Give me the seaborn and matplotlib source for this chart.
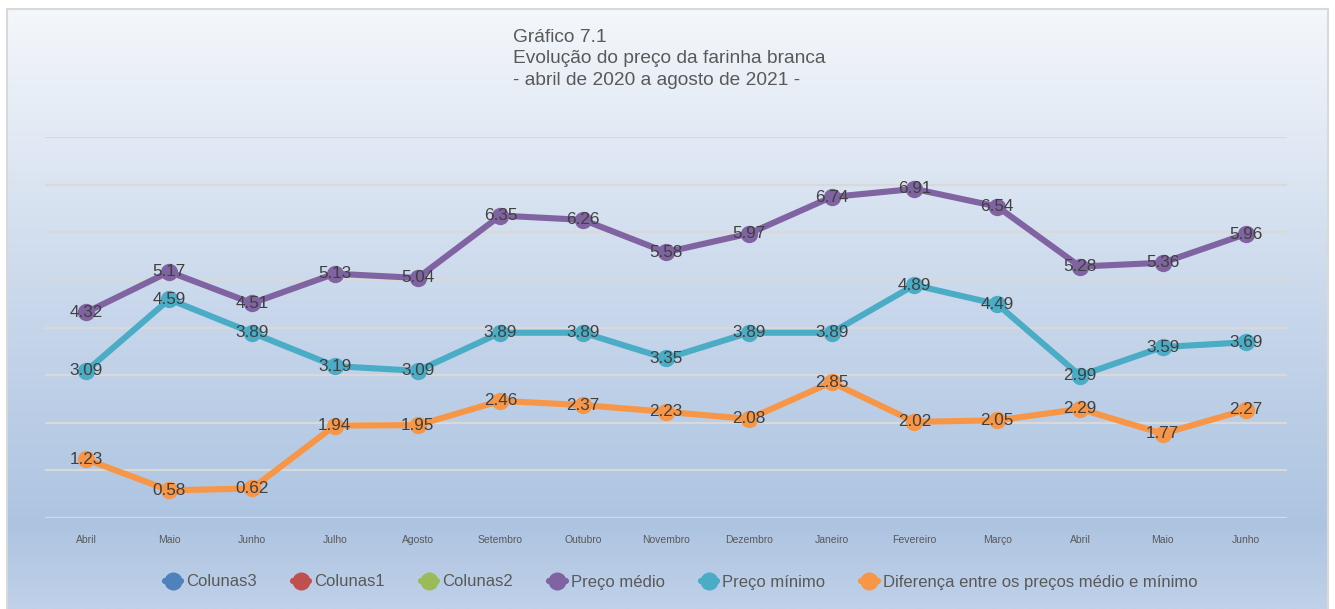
import numpy as np
import pandas as pd
import matplotlib
matplotlib.use("Agg")
import matplotlib.pyplot as plt
from matplotlib.lines import Line2D
from matplotlib.colors import LinearSegmentedColormap
import seaborn as sns

months = ["Abril", "Maio", "Junho", "Julho", "Agosto", "Setembro", "Outubro",
          "Novembro", "Dezembro", "Janeiro", "Fevereiro", "Março", "Abril", "Maio", "Junho"]
preco_medio = [4.32, 5.17, 4.51, 5.13, 5.04, 6.35, 6.26, 5.58, 5.97, 6.74, 6.91, 6.54, 5.28, 5.36, 5.96]
preco_minimo = [3.09, 4.59, 3.89, 3.19, 3.09, 3.89, 3.89, 3.35, 3.89, 3.89, 4.89, 4.49, 2.99, 3.59, 3.69]
diferenca = [1.23, 0.58, 0.62, 1.94, 1.95, 2.46, 2.37, 2.23, 2.08, 2.85, 2.02, 2.05, 2.29, 1.77, 2.27]
series_names = ["Preço médio", "Preço mínimo", "Diferença entre os preços médio e mínimo"]
empty_names = ["Colunas3", "Colunas1", "Colunas2"]
colors = {"Colunas3": "#4f81bd", "Colunas1": "#c0504d", "Colunas2": "#9bbb59",
          "Preço médio": "#8064a2", "Preço mínimo": "#4bacc6",
          "Diferença entre os preços médio e mínimo": "#f79646"}

sns.set_theme(style="white")
plt.rcParams['font.family'] = ['Liberation Sans', 'DejaVu Sans']

W, H = 1335, 609
fig = plt.figure(figsize=(W / 100, H / 100), dpi=100)
fig.patch.set_facecolor("white")

# gradient background panel
bg = fig.add_axes([7 / W, 0, (1328 - 7) / W, (H - 9) / H])
cmap = LinearSegmentedColormap.from_list(
    "bg", [(0.0, (244/255, 247/255, 251/255)),
           (0.5, (200/255, 215/255, 235/255)),
           (0.86, (173/255, 196/255, 225/255)),
           (1.0, (192/255, 209/255, 233/255))])
grad = np.linspace(0, 1, 256).reshape(-1, 1)
bg.imshow(grad, aspect="auto", cmap=cmap, extent=[0, 1, 0, 1], origin="upper")
bg.set_xticks([]); bg.set_yticks([])
for s in bg.spines.values():
    s.set_color("#d9d9d9"); s.set_linewidth(1.5)
bg.spines["bottom"].set_visible(False)

ax = fig.add_axes([45 / W, (H - 518) / H, (1287 - 45) / W, (518 - 137) / H])
ax.patch.set_alpha(0)

df = pd.DataFrame({
    "x": list(range(len(months))) * 3,
    "valor": preco_medio + preco_minimo + diferenca,
    "serie": [series_names[0]] * len(months) + [series_names[1]] * len(months) + [series_names[2]] * len(months),
})

for y in range(0, 9):
    ax.axhline(y, color="#d9d9d9", lw=1.6, zorder=0)

sns.lineplot(data=df, x="x", y="valor", hue="serie", palette=colors, hue_order=series_names,
             linewidth=4.4, marker="o", markersize=12.5, markeredgewidth=0, legend=False, ax=ax, zorder=3)

for name, vals in zip(series_names, [preco_medio, preco_minimo, diferenca]):
    for i, v in enumerate(vals):
        ax.text(i, v, f"{v:.2f}", ha="center", va="center", fontsize=12.3, color="#404040", zorder=5)

ax.set_xlim(-0.5, len(months) - 0.5)
ax.set_ylim(0, 8)
ax.set_xticks(range(len(months)))
ax.set_xticklabels(months, fontsize=7.5, color="#595959")
ax.tick_params(axis="x", length=0, pad=12)
ax.set_yticks([])
ax.set_xlabel(""); ax.set_ylabel("")
for s in ax.spines.values():
    s.set_visible(False)

fig.text(513 / W, 1 - 29 / H, "Gráfico 7.1\nEvolução do preço da farinha branca\n- abril de 2020 a agosto de 2021 -",
         ha="left", va="top", fontsize=13.8, color="#595959", linespacing=1.33)

handles = [Line2D([0], [0], color=colors[n], lw=4.5, marker="o", markersize=13, markeredgewidth=0)
           for n in empty_names + series_names]
fig.legend(handles, empty_names + series_names, loc="center", bbox_to_anchor=(681 / W, 1 - 582 / H),
           ncol=6, frameon=False, fontsize=12, handlelength=1.0, handletextpad=0.3,
           columnspacing=2.15, labelcolor="#595959")

fig.savefig("out.png", dpi=100, facecolor="white")
